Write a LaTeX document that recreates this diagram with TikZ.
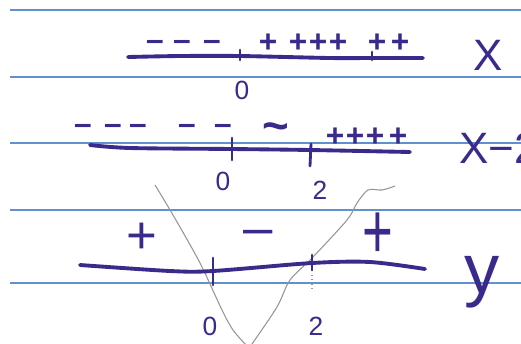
\documentclass[tikz,border=0pt]{standalone}
\usepackage{fontspec}
\setmainfont{Liberation Sans}
\definecolor{ink}{RGB}{58,42,140}
\definecolor{rule}{RGB}{95,145,205}
\definecolor{pencil}{RGB}{150,150,150}
\tikzset{
  ruled/.style={draw=rule, line width=0.7pt},
  numline/.style={draw=ink, line width=2.2pt, line cap=round},
  tickmark/.style={draw=ink, line width=1.6pt, line cap=round},
  sgn/.style={text=ink, inner sep=0pt, font=\fontsize{18}{18}\selectfont\bfseries},
  bigsgn/.style={text=ink, inner sep=0pt, font=\fontsize{30}{30}\selectfont},
  lbl/.style={text=ink, inner sep=0pt, font=\fontsize{15}{15}\selectfont},
  fn/.style={text=ink, inner sep=0pt, font=\fontsize{25}{25}\selectfont},
  sketch/.style={draw=pencil, line width=0.6pt},
}
\begin{document}
\begin{tikzpicture}[x=0.02cm,y=-0.02cm]
\useasboundingbox[fill=white] (0,0) rectangle (521,343);
% ruled paper lines
\foreach \yy in {10,77,143,210,283}{\draw[ruled] (10,\yy) -- (521,\yy);}
% pencil sketch of parabola
\draw[sketch] plot[smooth] coordinates {(155,185) (173,215) (200,263) (222,310) (233,330) (246,345)};
\draw[sketch] plot[smooth] coordinates {(252,344) (277,307) (290,280) (313,257) (347,220) (357,203) (368,190) (382,190) (395,186)};
\draw[sketch, dotted] (312,270) -- (312,292);
% row 1
\draw[numline] plot[smooth] coordinates {(128,57) (180,56) (240,56) (330,58) (372,58) (423,58)};
\draw[tickmark] (240,50) -- (240,60);
\draw[tickmark] (372,52) -- (372,60);
\foreach \xx in {155,182,212}{\node[sgn] at (\xx,45) {–};}
\foreach \xx in {268,298,318,338,377,400}{\node[sgn] at (\xx,43) {+};}
\node[lbl] (z1) at (242,90) {0};
\node[fn] (f1) at (488,55) {X};
% row 2
\draw[numline] plot[smooth] coordinates {(90,145) (130,148) (232,149) (310,150) (410,152)};
\draw[tickmark] (232,138) -- (232,160);
\draw[tickmark] (311,144) -- (310,166);
\foreach \xx in {83,113,138,187,223}{\node[sgn] at (\xx,129) {–};}
\node[sgn] at (276,132) {\fontsize{26}{26}\selectfont\textasciitilde};
\foreach \xx in {335,355,375,398}{\node[sgn] at (\xx,137) {+};}
\node[lbl] (z2) at (223,181) {0};
\node[lbl] (t2) at (320,190) {2};
\node[fn, anchor=west] (f2) at (459,148) {X−2};
% row 3
\draw[numline] plot[smooth] coordinates {(80,265) (170,271) (213,271) (312,263) (370,262) (425,269)};
\draw[tickmark] (213,258) -- (213,285);
\draw[tickmark] (312,255) -- (312,270);
\node[bigsgn] at (142,238) {+};
\node[bigsgn] at (258,238) {–};
\node[bigsgn, yscale=1.5] at (378,236) {+};
\node[lbl] (z3) at (210,326) {0};
\node[lbl] (t3) at (316,326) {2};
\node[text=ink, inner sep=0pt, font=\fontsize{40}{40}\selectfont] (f3) at (482,282) {y};
\end{tikzpicture}
\end{document}
